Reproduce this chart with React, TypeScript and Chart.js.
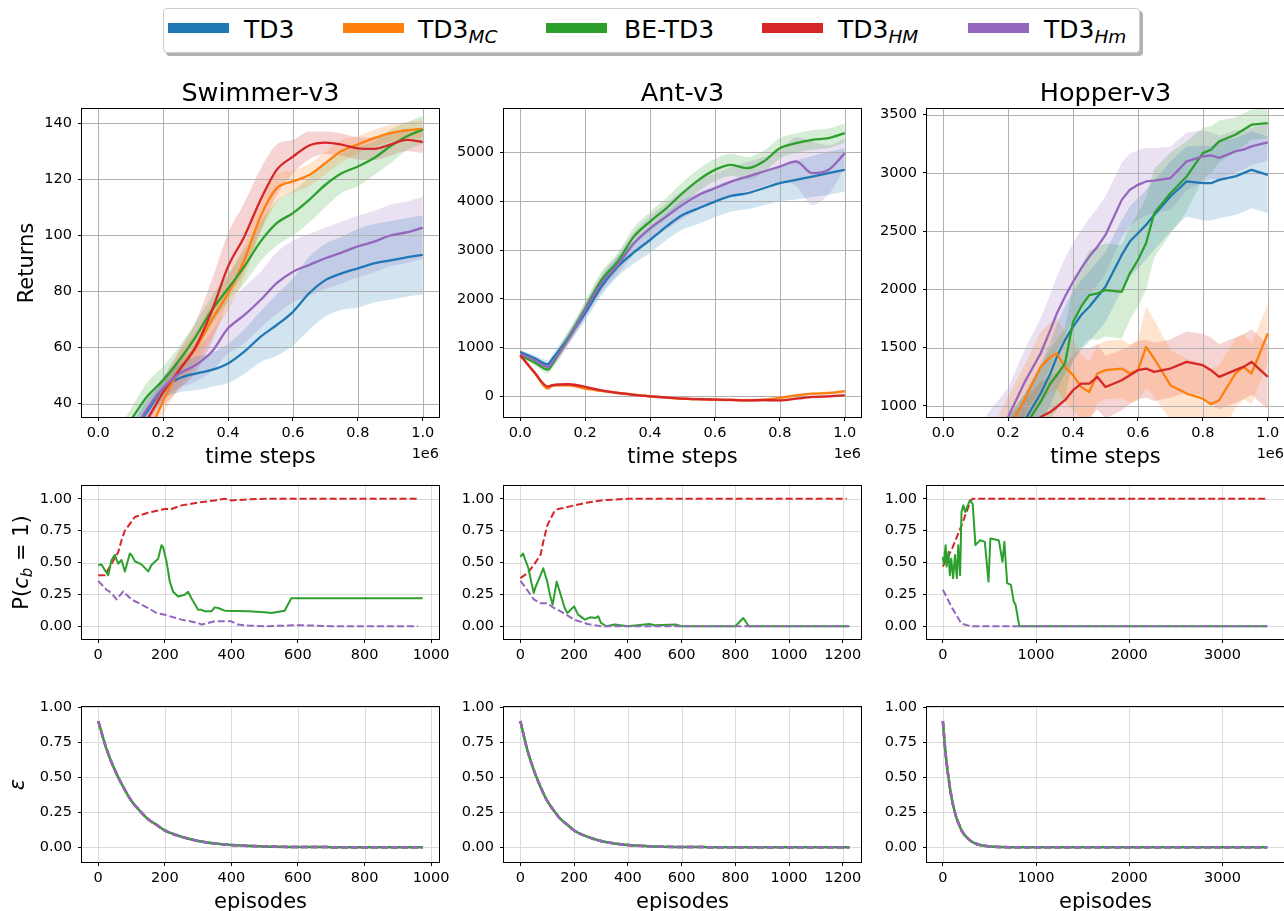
import React, { useEffect, useRef } from "react";
import { Chart, registerables } from "chart.js";

Chart.register(...registerables);

const FONT = '"DejaVu Sans", "Liberation Sans", sans-serif';
Chart.defaults.font.family = FONT;
Chart.defaults.color = "#000";

const C_TD3 = "#1f77b4";
const C_MC = "#ff7f0e";
const C_BE = "#2ca02c";
const C_HM = "#d62728";
const C_Hm = "#9467bd";

// ---------------- tick labels ----------------
const TIME_TICKS = [0, 200000, 400000, 600000, 800000, 1000000];
const SWIM_RET_TICKS = [40, 60, 80, 100, 120, 140];
const ANT_RET_TICKS = [0, 1000, 2000, 3000, 4000, 5000];
const HOP_RET_TICKS = [1000, 1500, 2000, 2500, 3000, 3500];
const PROB_TICKS = [0, 0.25, 0.5, 0.75, 1.0];
const SWIM_EP_TICKS = [0, 200, 400, 600, 800, 1000];
const ANT_EP_TICKS = [0, 200, 400, 600, 800, 1000, 1200];
const HOP_EP_TICKS = [0, 1000, 2000, 3000];

// ---------------- Swimmer-v3 returns ----------------
const SWIM_STEPS = [0, 50000, 100000, 150000, 200000, 250000, 300000, 350000, 400000, 450000, 500000, 550000, 600000, 650000, 700000, 750000, 800000, 850000, 900000, 950000, 1000000];
const SWIM_TD3 = [20, 24, 30, 37, 45.4, 49, 50.7, 52, 54.3, 58.5, 63.8, 68, 72.7, 79.3, 84, 86.4, 88.2, 90, 91, 92.1, 93];
const SWIM_TD3_STD = [2, 2, 3, 4, 4, 5, 6, 6, 7, 8, 9, 11, 12, 13, 13, 13, 14, 14, 14, 14, 14];
const SWIM_MC = [15, 18, 22, 28, 41, 52, 59.6, 69.8, 79.3, 91, 106.7, 116.8, 119.2, 121.5, 125.7, 130, 132.3, 134.6, 136.4, 137.4, 137.9];
const SWIM_MC_STD = [2, 2, 3, 4, 5, 6, 6, 6, 6, 6, 6, 5, 4, 4, 4, 4, 3, 3, 3, 3, 3];
const SWIM_BE = [22, 26, 34, 42.4, 48.3, 55.5, 63.8, 73.3, 81, 88.8, 97.7, 104.3, 107.9, 112.6, 118, 122.1, 124.5, 127.5, 131.7, 135.2, 137.6];
const SWIM_BE_STD = [3, 3, 4, 5, 5, 5, 5, 5, 5, 6, 7, 8, 8, 8, 8, 7, 7, 6, 6, 5, 5];
const SWIM_HM = [15, 18, 24, 34, 44, 52, 60.2, 73, 88.8, 99.5, 112.6, 123.3, 128, 132, 133, 132.3, 131, 130.8, 132.3, 134, 133.2];
const SWIM_HM_STD = [2, 2, 3, 4, 5, 7, 9, 11, 12, 12, 11, 9, 6, 5, 4, 4, 4, 4, 4, 4, 4];
const SWIM_Hm = [18, 22, 28, 38, 45.4, 50.7, 53.7, 58.5, 66.8, 71.5, 76.9, 82.9, 87, 89.4, 91.8, 93.8, 96, 97.7, 99.9, 101, 102.7];
const SWIM_Hm_STD = [2, 2, 3, 4, 4, 5, 6, 7, 9, 10, 10, 11, 11, 11, 11, 11, 11, 11, 11, 11, 11];

// ---------------- Ant-v3 returns ----------------
const ANT_STEPS = [0, 45000, 85000, 100000, 150000, 200000, 250000, 300000, 350000, 400000, 450000, 500000, 550000, 600000, 650000, 700000, 750000, 800000, 850000, 900000, 950000, 1000000];
const ANT_TD3 = [911, 780, 657, 774, 1219, 1699, 2247, 2657, 2950, 3205, 3479, 3719, 3856, 3993, 4109, 4164, 4267, 4370, 4438, 4507, 4575, 4644];
const ANT_TD3_STD = [40, 60, 80, 100, 120, 150, 180, 200, 230, 260, 280, 300, 320, 320, 320, 330, 350, 370, 400, 420, 440, 450];
const ANT_MC = [842, 480, 158, 226, 226, 158, 110, 68, 30, 0, -25, -48, -60, -68, -75, -82, -68, -34, 20, 55, 68, 103];
const ANT_MC_STD = [30, 30, 30, 30, 30, 30, 30, 30, 30, 30, 30, 30, 30, 30, 30, 30, 30, 30, 30, 30, 30, 30];
const ANT_BE = [842, 690, 548, 671, 1219, 1801, 2383, 2760, 3274, 3582, 3856, 4164, 4438, 4644, 4746, 4678, 4815, 5089, 5192, 5260, 5294, 5397];
const ANT_BE_STD = [40, 60, 80, 100, 130, 150, 170, 180, 190, 200, 210, 220, 230, 230, 230, 230, 220, 210, 200, 200, 200, 200];
const ANT_HM = [842, 480, 200, 226, 247, 192, 120, 68, 30, 0, -25, -48, -60, -68, -75, -82, -80, -82, -48, -14, 0, 20];
const ANT_HM_STD = [30, 30, 30, 30, 30, 30, 30, 30, 30, 30, 30, 30, 30, 30, 30, 30, 30, 30, 30, 30, 30, 30];
const ANT_Hm = [877, 740, 603, 705, 1185, 1767, 2315, 2692, 3137, 3445, 3685, 3925, 4130, 4267, 4404, 4507, 4610, 4712, 4815, 4575, 4644, 4986];
const ANT_Hm_STD = [40, 60, 80, 100, 120, 150, 180, 200, 230, 250, 270, 290, 300, 300, 300, 300, 300, 320, 500, 650, 500, 300];

// ---------------- Hopper-v3 returns ----------------
const HOP_STEPS = [0, 100000, 150000, 200000, 250000, 300000, 330000, 350000, 375000, 400000, 425000, 450000, 475000, 500000, 550000, 575000, 600000, 625000, 650000, 700000, 750000, 800000, 825000, 850000, 900000, 925000, 950000, 1000000];
const HOP_TD3 = [200, 400, 550, 700, 870, 1106, 1278, 1421, 1565, 1680, 1780, 1852, 1937, 2023, 2296, 2411, 2482, 2554, 2640, 2798, 2927, 2912, 2912, 2941, 2970, 2998, 3027, 2984];
const HOP_TD3_STD = [100, 150, 180, 200, 230, 250, 270, 280, 290, 300, 300, 300, 300, 300, 300, 300, 300, 300, 300, 300, 300, 320, 320, 330, 330, 330, 330, 330];
const HOP_MC = [200, 400, 550, 800, 1049, 1335, 1421, 1450, 1335, 1264, 1163, 1120, 1278, 1307, 1321, 1278, 1307, 1507, 1407, 1178, 1106, 1063, 1014, 1049, 1278, 1335, 1278, 1622];
const HOP_MC_STD = [150, 200, 250, 280, 300, 300, 300, 300, 300, 300, 280, 260, 250, 250, 250, 250, 260, 350, 330, 300, 300, 300, 300, 300, 300, 280, 260, 250];
const HOP_BE = [200, 400, 500, 650, 820, 1034, 1192, 1264, 1364, 1720, 1852, 1952, 1966, 1995, 1980, 2138, 2253, 2396, 2654, 2826, 2970, 3170, 3199, 3271, 3328, 3371, 3414, 3428];
const HOP_BE_STD = [150, 200, 230, 250, 280, 300, 300, 300, 300, 320, 350, 380, 400, 400, 400, 400, 400, 400, 380, 350, 300, 220, 200, 180, 150, 140, 130, 130];
const HOP_HM = [200, 350, 450, 600, 750, 905, 948, 991, 1049, 1135, 1192, 1192, 1249, 1163, 1221, 1264, 1307, 1321, 1292, 1321, 1378, 1350, 1307, 1249, 1307, 1335, 1378, 1249];
const HOP_HM_STD = [150, 200, 250, 280, 300, 300, 300, 300, 300, 300, 300, 300, 280, 270, 260, 250, 250, 250, 250, 250, 260, 270, 280, 280, 280, 280, 280, 280];
const HOP_Hm = [300, 600, 750, 905, 1200, 1450, 1651, 1794, 1937, 2066, 2181, 2282, 2367, 2468, 2769, 2855, 2898, 2927, 2935, 2955, 3099, 3142, 3150, 3130, 3185, 3200, 3228, 3262];
const HOP_Hm_STD = [150, 200, 230, 250, 280, 300, 310, 320, 330, 330, 330, 330, 330, 330, 320, 310, 300, 290, 280, 270, 250, 220, 200, 190, 180, 170, 160, 160];

// ---------------- P(c_b = 1) ----------------
const SWIM_P_HM_EP = [0, 20, 40, 60, 70, 80, 100, 110, 150, 200, 220, 250, 300, 350, 380, 400, 450, 500, 960];
const SWIM_P_HM = [0.40, 0.40, 0.49, 0.58, 0.675, 0.75, 0.82, 0.857, 0.89, 0.92, 0.92, 0.948, 0.97, 0.987, 1.0, 0.987, 0.995, 1.0, 1.0];
const SWIM_P_BE_EP = [0, 10, 20, 30, 40, 50, 60, 70, 80, 95, 100, 110, 130, 150, 160, 180, 190, 195, 205, 215, 225, 240, 260, 270, 280, 300, 310, 320, 340, 350, 360, 380, 450, 500, 520, 560, 580, 975];
const SWIM_P_BE = [0.48, 0.485, 0.44, 0.40, 0.52, 0.56, 0.49, 0.52, 0.43, 0.57, 0.56, 0.51, 0.485, 0.43, 0.48, 0.53, 0.636, 0.62, 0.51, 0.35, 0.27, 0.234, 0.247, 0.27, 0.22, 0.13, 0.13, 0.117, 0.117, 0.148, 0.143, 0.122, 0.117, 0.11, 0.104, 0.122, 0.22, 0.22];
const SWIM_P_Hm_EP = [0, 25, 40, 55, 75, 100, 150, 175, 200, 250, 300, 310, 350, 400, 420, 450, 500, 600, 650, 700, 960];
const SWIM_P_Hm = [0.356, 0.286, 0.26, 0.21, 0.273, 0.21, 0.143, 0.104, 0.09, 0.052, 0.026, 0.013, 0.039, 0.039, 0.013, 0.005, 0, 0.008, 0.005, 0, 0];

const ANT_P_HM_EP = [0, 25, 50, 75, 85, 100, 125, 140, 160, 200, 250, 300, 400, 1215];
const ANT_P_HM = [0.377, 0.415, 0.48, 0.56, 0.66, 0.79, 0.896, 0.92, 0.927, 0.948, 0.97, 0.987, 1.0, 1.0];
const ANT_P_BE_EP = [0, 10, 20, 30, 40, 50, 55, 65, 75, 85, 100, 110, 120, 135, 150, 165, 175, 200, 215, 240, 260, 280, 290, 300, 320, 350, 400, 480, 500, 580, 600, 800, 830, 850, 1225];
const ANT_P_BE = [0.545, 0.57, 0.51, 0.455, 0.35, 0.26, 0.30, 0.35, 0.40, 0.455, 0.35, 0.247, 0.169, 0.35, 0.247, 0.143, 0.104, 0.156, 0.091, 0.052, 0.07, 0.065, 0.078, 0.026, 0, 0.013, 0, 0.018, 0.008, 0.013, 0, 0, 0.065, 0, 0];
const ANT_P_Hm_EP = [0, 25, 50, 75, 100, 125, 150, 200, 250, 300, 1220];
const ANT_P_Hm = [0.356, 0.286, 0.21, 0.18, 0.18, 0.143, 0.117, 0.052, 0.018, 0, 0];

const HOP_P_HM_EP = [0, 100, 200, 300, 320, 3480];
const HOP_P_HM = [0.468, 0.61, 0.79, 0.987, 1.0, 1.0];
const HOP_P_BE_EP = [0, 10, 30, 40, 60, 75, 90, 110, 130, 150, 165, 185, 200, 220, 240, 260, 290, 320, 350, 400, 450, 490, 510, 600, 640, 660, 690, 730, 760, 780, 820, 3480];
const HOP_P_BE = [0.545, 0.49, 0.636, 0.468, 0.584, 0.40, 0.53, 0.377, 0.558, 0.377, 0.636, 0.40, 0.896, 0.948, 0.896, 0.935, 0.987, 0.96, 0.636, 0.675, 0.662, 0.35, 0.688, 0.675, 0.506, 0.662, 0.338, 0.325, 0.195, 0.169, 0, 0];
const HOP_P_Hm_EP = [0, 100, 200, 300, 3480];
const HOP_P_Hm = [0.286, 0.143, 0.02, 0, 0];

// ---------------- epsilon ----------------
const EPS_EP = [0, 25, 50, 75, 100, 125, 150, 175, 200, 250, 300, 350, 400, 500, 600, 700];
const EPS_VAL = [0.90, 0.70, 0.55, 0.43, 0.33, 0.26, 0.20, 0.16, 0.12, 0.075, 0.045, 0.027, 0.016, 0.006, 0.002, 0.001];
const SWIM_LAST_EP = 975;
const ANT_LAST_EP = 1225;
const HOP_LAST_EP = 3480;

// ---------------- layout ----------------
const COL_LEFT = [82, 504, 927];
const PLOT_W = 357;
const ROWS = [
  { top: 109, h: 308 },
  { top: 486, h: 153 },
  { top: 707, h: 155 },
];
const PAD_L = 82;
const PAD_T = 45;
const PAD_R = 30;
const PAD_B = 55;

type Series = {
  x: number[];
  y: number[];
  std?: number[];
  color: string;
  width: number;
  dash?: number[];
  smooth?: boolean;
};

type Spec = {
  col: number;
  row: number;
  xMin: number;
  xMax: number;
  yMin: number;
  yMax: number;
  xTicks: number[];
  yTicks: number[];
  xFmt: (v: number) => string;
  yFmt: (v: number) => string;
  grid: string;
  series: Series[];
  title?: string;
  xLabel?: string;
  yLabel?: "returns" | "pcb" | "eps";
  offsetText?: string;
};

const fmtSteps = (v: number) => (v / 1e6).toFixed(1);
const fmtInt = (v: number) => String(Math.round(v));
const fmt2 = (v: number) => v.toFixed(2);

function hexA(hex: string, a: number) {
  const r = parseInt(hex.slice(1, 3), 16);
  const g = parseInt(hex.slice(3, 5), 16);
  const b = parseInt(hex.slice(5, 7), 16);
  return `rgba(${r},${g},${b},${a})`;
}

const TOP_W = 2.3;
const MID_W = 2.0;
const BOT_W = 2.5;
const DASH = [7, 3];
const TOP_GRID = "#b0b0b0";
const LOW_GRID = "#dadada";

function topSeries(x: number[], arr: [number[], number[], string][], smooth: boolean): Series[] {
  return arr.map(([y, std, color]) => ({ x, y, std, color, width: TOP_W, smooth }));
}

function epsSeries(last: number): Series[] {
  const x = [...EPS_EP, last];
  const y = [...EPS_VAL, 0];
  return [
    { x, y, color: C_HM, width: BOT_W, dash: DASH, smooth: true },
    { x, y, color: C_BE, width: BOT_W, smooth: true },
    { x, y, color: C_Hm, width: BOT_W, dash: DASH, smooth: true },
  ];
}

const SPECS: Spec[] = [
  {
    col: 0, row: 0, xMin: -50000, xMax: 1050000, yMin: 35.2, yMax: 145,
    xTicks: TIME_TICKS, yTicks: SWIM_RET_TICKS, xFmt: fmtSteps, yFmt: fmtInt, grid: TOP_GRID,
    title: "Swimmer-v3", xLabel: "time steps", yLabel: "returns", offsetText: "1e6",
    series: topSeries(SWIM_STEPS, [
      [SWIM_TD3, SWIM_TD3_STD, C_TD3],
      [SWIM_MC, SWIM_MC_STD, C_MC],
      [SWIM_BE, SWIM_BE_STD, C_BE],
      [SWIM_HM, SWIM_HM_STD, C_HM],
      [SWIM_Hm, SWIM_Hm_STD, C_Hm],
    ], true),
  },
  {
    col: 1, row: 0, xMin: -50000, xMax: 1050000, yMin: -425, yMax: 5892,
    xTicks: TIME_TICKS, yTicks: ANT_RET_TICKS, xFmt: fmtSteps, yFmt: fmtInt, grid: TOP_GRID,
    title: "Ant-v3", xLabel: "time steps", offsetText: "1e6",
    series: topSeries(ANT_STEPS, [
      [ANT_TD3, ANT_TD3_STD, C_TD3],
      [ANT_MC, ANT_MC_STD, C_MC],
      [ANT_BE, ANT_BE_STD, C_BE],
      [ANT_HM, ANT_HM_STD, C_HM],
      [ANT_Hm, ANT_Hm_STD, C_Hm],
    ], true),
  },
  {
    col: 2, row: 0, xMin: -50000, xMax: 1050000, yMin: 905, yMax: 3549,
    xTicks: TIME_TICKS, yTicks: HOP_RET_TICKS, xFmt: fmtSteps, yFmt: fmtInt, grid: TOP_GRID,
    title: "Hopper-v3", xLabel: "time steps", offsetText: "1e6",
    series: topSeries(HOP_STEPS, [
      [HOP_TD3, HOP_TD3_STD, C_TD3],
      [HOP_MC, HOP_MC_STD, C_MC],
      [HOP_BE, HOP_BE_STD, C_BE],
      [HOP_HM, HOP_HM_STD, C_HM],
      [HOP_Hm, HOP_Hm_STD, C_Hm],
    ], false),
  },
  {
    col: 0, row: 1, xMin: -48.75, xMax: 1023.75, yMin: -0.1, yMax: 1.1,
    xTicks: SWIM_EP_TICKS, yTicks: PROB_TICKS, xFmt: fmtInt, yFmt: fmt2, grid: LOW_GRID, yLabel: "pcb",
    series: [
      { x: SWIM_P_HM_EP, y: SWIM_P_HM, color: C_HM, width: MID_W, dash: DASH },
      { x: SWIM_P_BE_EP, y: SWIM_P_BE, color: C_BE, width: MID_W },
      { x: SWIM_P_Hm_EP, y: SWIM_P_Hm, color: C_Hm, width: MID_W, dash: DASH },
    ],
  },
  {
    col: 1, row: 1, xMin: -61, xMax: 1268, yMin: -0.1, yMax: 1.1,
    xTicks: ANT_EP_TICKS, yTicks: PROB_TICKS, xFmt: fmtInt, yFmt: fmt2, grid: LOW_GRID,
    series: [
      { x: ANT_P_HM_EP, y: ANT_P_HM, color: C_HM, width: MID_W, dash: DASH },
      { x: ANT_P_BE_EP, y: ANT_P_BE, color: C_BE, width: MID_W },
      { x: ANT_P_Hm_EP, y: ANT_P_Hm, color: C_Hm, width: MID_W, dash: DASH },
    ],
  },
  {
    col: 2, row: 1, xMin: -170, xMax: 3660, yMin: -0.1, yMax: 1.1,
    xTicks: HOP_EP_TICKS, yTicks: PROB_TICKS, xFmt: fmtInt, yFmt: fmt2, grid: LOW_GRID,
    series: [
      { x: HOP_P_HM_EP, y: HOP_P_HM, color: C_HM, width: MID_W, dash: DASH },
      { x: HOP_P_BE_EP, y: HOP_P_BE, color: C_BE, width: MID_W },
      { x: HOP_P_Hm_EP, y: HOP_P_Hm, color: C_Hm, width: MID_W, dash: DASH },
    ],
  },
  {
    col: 0, row: 2, xMin: -48.75, xMax: 1023.75, yMin: -0.105, yMax: 1.0,
    xTicks: SWIM_EP_TICKS, yTicks: PROB_TICKS, xFmt: fmtInt, yFmt: fmt2, grid: LOW_GRID,
    xLabel: "episodes", yLabel: "eps", series: epsSeries(SWIM_LAST_EP),
  },
  {
    col: 1, row: 2, xMin: -61, xMax: 1268, yMin: -0.105, yMax: 1.0,
    xTicks: ANT_EP_TICKS, yTicks: PROB_TICKS, xFmt: fmtInt, yFmt: fmt2, grid: LOW_GRID,
    xLabel: "episodes", series: epsSeries(ANT_LAST_EP),
  },
  {
    col: 2, row: 2, xMin: -170, xMax: 3660, yMin: -0.105, yMax: 1.0,
    xTicks: HOP_EP_TICKS, yTicks: PROB_TICKS, xFmt: fmtInt, yFmt: fmt2, grid: LOW_GRID,
    xLabel: "episodes", series: epsSeries(HOP_LAST_EP),
  },
];

function drawYLabel(ctx: CanvasRenderingContext2D, kind: string, x: number, cy: number) {
  ctx.save();
  ctx.translate(x, cy);
  ctx.rotate(-Math.PI / 2);
  ctx.textBaseline = "alphabetic";
  ctx.textAlign = "left";
  ctx.fillStyle = "#000";
  let parts: { t: string; f: string; dy: number }[] = [];
  if (kind === "returns") parts = [{ t: "Returns", f: `21px ${FONT}`, dy: 0 }];
  else if (kind === "pcb")
    parts = [
      { t: "P(", f: `21px ${FONT}`, dy: 0 },
      { t: "c", f: `italic 21px ${FONT}`, dy: 0 },
      { t: "b", f: `italic 15px ${FONT}`, dy: 4.5 },
      { t: " = 1)", f: `21px ${FONT}`, dy: 0 },
    ];
  else parts = [{ t: "ε", f: `italic 21px ${FONT}`, dy: 0 }];
  let total = 0;
  const ws = parts.map((p) => {
    ctx.font = p.f;
    const w = ctx.measureText(p.t).width;
    total += w;
    return w;
  });
  let xx = -total / 2;
  parts.forEach((p, i) => {
    ctx.font = p.f;
    ctx.fillText(p.t, xx, p.dy);
    xx += ws[i];
  });
  ctx.restore();
}

function buildConfig(spec: Spec): any {
  const datasets: any[] = [];
  spec.series.forEach((s) => {
    if (!s.std) return;
    const cm = s.smooth ? "monotone" : "default";
    datasets.push({
      data: s.x.map((x, k) => ({ x, y: s.y[k] - s.std![k] })),
      borderColor: "rgba(0,0,0,0)",
      borderWidth: 1,
      pointRadius: 0,
      fill: false,
      order: 100,
      cubicInterpolationMode: cm,
      isLine: false,
    });
    datasets.push({
      data: s.x.map((x, k) => ({ x, y: s.y[k] + s.std![k] })),
      borderColor: "rgba(0,0,0,0)",
      borderWidth: 1,
      pointRadius: 0,
      fill: "-1",
      backgroundColor: hexA(s.color, 0.2),
      order: 100,
      cubicInterpolationMode: cm,
      isLine: false,
    });
  });
  spec.series.forEach((s, i) => {
    datasets.push({
      data: s.x.map((x, k) => ({ x, y: s.y[k] })),
      borderColor: s.color,
      borderWidth: s.width,
      borderDash: s.dash || [],
      borderJoinStyle: "round",
      borderCapStyle: "butt",
      pointRadius: 0,
      fill: false,
      order: 50 - i,
      cubicInterpolationMode: s.smooth ? "monotone" : "default",
      isLine: true,
    });
  });

  const drawGrid = (chart: any) => {
    const { ctx, chartArea: a, scales } = chart;
    ctx.save();
    ctx.beginPath();
    ctx.rect(a.left, a.top, a.right - a.left, a.bottom - a.top);
    ctx.clip();
    ctx.strokeStyle = spec.grid;
    ctx.lineWidth = 1;
    ctx.beginPath();
    spec.xTicks.forEach((v) => {
      const p = Math.round(scales.x.getPixelForValue(v)) + 0.5;
      ctx.moveTo(p, a.top);
      ctx.lineTo(p, a.bottom);
    });
    spec.yTicks.forEach((v) => {
      const p = Math.round(scales.y.getPixelForValue(v)) + 0.5;
      ctx.moveTo(a.left, p);
      ctx.lineTo(a.right, p);
    });
    ctx.stroke();
    ctx.restore();
  };

  const deco = {
    id: "deco",
    beforeDatasetsDraw(chart: any) {
      chart.$gridDone = false;
    },
    beforeDatasetDraw(chart: any, args: any) {
      const ds = chart.data.datasets[args.index];
      if (!chart.$gridDone && ds.isLine) {
        drawGrid(chart);
        chart.$gridDone = true;
      }
    },
    afterDatasetsDraw(chart: any) {
      if (!chart.$gridDone) drawGrid(chart);
      chart.$gridDone = true;
    },
    afterDraw(chart: any) {
      const { ctx, chartArea: a } = chart;
      ctx.save();
      ctx.strokeStyle = "#000";
      ctx.lineWidth = 1;
      ctx.strokeRect(a.left - 0.5, a.top - 0.5, a.right - a.left + 1, a.bottom - a.top + 1);
      ctx.fillStyle = "#000";
      const cx = (a.left + a.right) / 2;
      if (spec.title) {
        ctx.font = `25.5px ${FONT}`;
        ctx.textAlign = "center";
        ctx.textBaseline = "alphabetic";
        ctx.fillText(spec.title, cx, a.top - 8.5);
      }
      if (spec.xLabel) {
        ctx.font = `21px ${FONT}`;
        ctx.textAlign = "center";
        ctx.textBaseline = "alphabetic";
        ctx.fillText(spec.xLabel, cx, a.bottom + 46);
      }
      if (spec.offsetText) {
        ctx.font = `14.5px ${FONT}`;
        ctx.textAlign = "right";
        ctx.textBaseline = "alphabetic";
        ctx.fillText(spec.offsetText, a.right, a.bottom + 40.5);
      }
      ctx.restore();
      if (spec.yLabel) {
        const cy = (a.top + a.bottom) / 2;
        const bx = spec.yLabel === "returns" ? 33 : spec.yLabel === "pcb" ? 27.5 : 23.5;
        drawYLabel(ctx, spec.yLabel, bx, cy);
      }
    },
  };

  const tickFont = { size: 14.5, family: FONT };
  return {
    type: "line",
    data: { datasets },
    options: {
      responsive: false,
      animation: false,
      events: [],
      parsing: true,
      layout: { padding: { left: PAD_L - 60, top: PAD_T, right: PAD_R, bottom: PAD_B - 30 } },
      plugins: { legend: { display: false }, tooltip: { enabled: false }, title: { display: false } },
      scales: {
        x: {
          type: "linear",
          min: spec.xMin,
          max: spec.xMax,
          afterBuildTicks: (sc: any) => {
            sc.ticks = spec.xTicks.map((v) => ({ value: v }));
          },
          afterFit: (sc: any) => {
            sc.height = 30;
          },
          grid: { drawOnChartArea: false, drawTicks: true, tickLength: 4, tickColor: "#000", tickWidth: 1, color: "#000" },
          border: { display: false },
          ticks: {
            autoSkip: false,
            maxRotation: 0,
            padding: 4,
            font: tickFont,
            color: "#000",
            callback: (v: number) => spec.xFmt(v),
          },
        },
        y: {
          type: "linear",
          min: spec.yMin,
          max: spec.yMax,
          afterBuildTicks: (sc: any) => {
            sc.ticks = spec.yTicks.map((v) => ({ value: v }));
          },
          afterFit: (sc: any) => {
            sc.width = 60;
          },
          grid: { drawOnChartArea: false, drawTicks: true, tickLength: 4, tickColor: "#000", tickWidth: 1, color: "#000" },
          border: { display: false },
          ticks: {
            autoSkip: false,
            padding: 6,
            font: tickFont,
            color: "#000",
            callback: (v: number) => spec.yFmt(v),
          },
        },
      },
    },
    plugins: [deco],
  };
}

function Panel({ spec }: { spec: Spec }) {
  const ref = useRef<HTMLCanvasElement>(null);
  const row = ROWS[spec.row];
  const w = PAD_L + PLOT_W + PAD_R;
  const h = PAD_T + row.h + PAD_B;
  const left = COL_LEFT[spec.col] - PAD_L;
  const top = row.top - PAD_T;
  useEffect(() => {
    if (!ref.current) return;
    const chart = new Chart(ref.current, buildConfig(spec));
    return () => chart.destroy();
  }, []);
  return (
    <canvas
      ref={ref}
      width={w}
      height={h}
      style={{ position: "absolute", left, top, width: w, height: h }}
    />
  );
}

const LEGEND_ITEMS = [
  { base: "TD3", sub: "", color: C_TD3 },
  { base: "TD3", sub: "MC", color: C_MC },
  { base: "BE-TD3", sub: "", color: C_BE },
  { base: "TD3", sub: "HM", color: C_HM },
  { base: "TD3", sub: "Hm", color: C_Hm },
];
const LEGEND_SWATCH_X = [168, 343, 546, 762, 968];
const LEGEND_TEXT_X = [244, 418, 624, 838, 1044];

function Legend() {
  return (
    <>
      <div
        style={{
          position: "absolute",
          left: 163,
          top: 8,
          width: 977,
          height: 45,
          boxSizing: "border-box",
          border: "1px solid #cccccc",
          borderRadius: 4,
          background: "#fff",
          boxShadow: "3px 3px 0 rgba(0,0,0,0.3)",
        }}
      />
      {LEGEND_ITEMS.map((it, i) => (
        <React.Fragment key={i}>
          <div
            style={{
              position: "absolute",
              left: LEGEND_SWATCH_X[i],
              top: 23,
              width: 61,
              height: 10,
              background: it.color,
            }}
          />
          <div
            style={{
              position: "absolute",
              left: LEGEND_TEXT_X[i],
              top: 16.5,
              fontFamily: FONT,
              fontSize: "25px",
              lineHeight: "25px",
              whiteSpace: "nowrap",
              color: "#000",
            }}
          >
            {it.base}
            {it.sub && (
              <span style={{ fontStyle: "italic", fontSize: "18.5px", position: "relative", top: "5px" }}>{it.sub}</span>
            )}
          </div>
        </React.Fragment>
      ))}
    </>
  );
}

export default function App() {
  return (
    <div
      style={{
        position: "absolute",
        left: 0,
        top: 0,
        width: 1284,
        height: 911,
        overflow: "hidden",
        background: "#fff",
      }}
    >
      {SPECS.map((s, i) => (
        <Panel key={i} spec={s} />
      ))}
      <Legend />
    </div>
  );
}
